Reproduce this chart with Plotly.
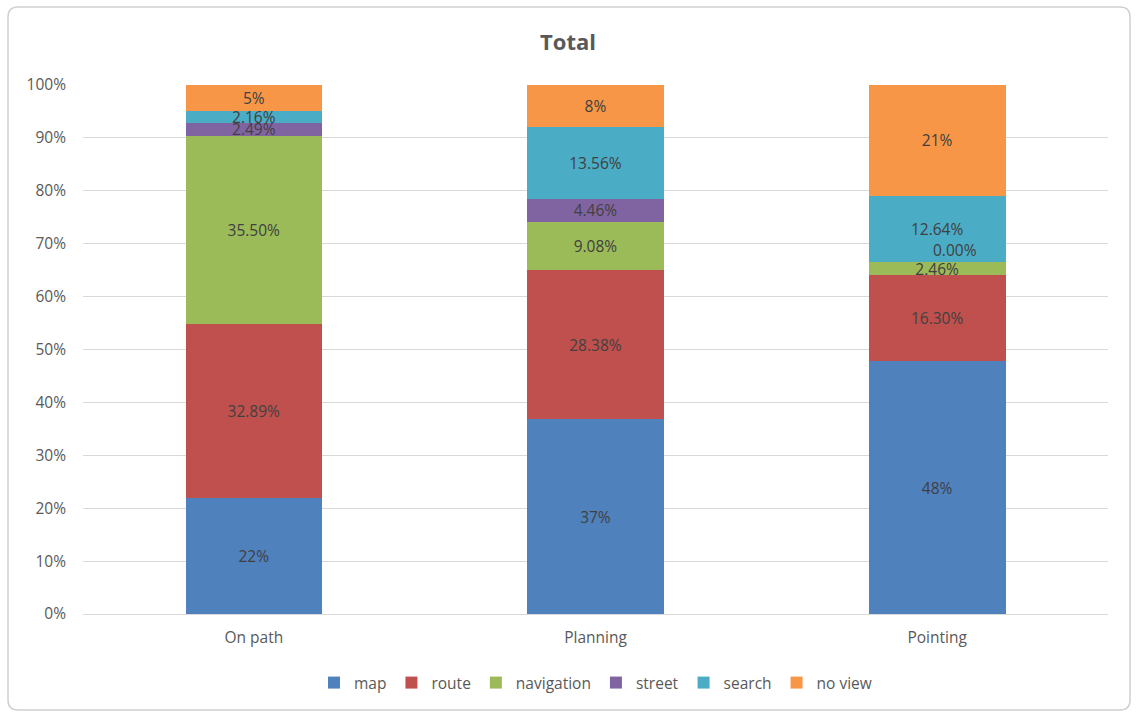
import plotly.graph_objects as go

categories = ["On path", "Planning", "Pointing"]
series_names = ["map", "route", "navigation", "street", "search", "no view"]
map_vals = [22, 37, 48]
route_vals = [32.89, 28.38, 16.30]
navigation_vals = [35.50, 9.08, 2.46]
street_vals = [2.49, 4.46, 0.00]
search_vals = [2.16, 13.56, 12.64]
noview_vals = [5, 8, 21]
map_labels = ["22%", "37%", "48%"]
route_labels = ["32.89%", "28.38%", "16.30%"]
navigation_labels = ["35.50%", "9.08%", "2.46%"]
street_labels = ["2.49%", "4.46%", "0.00%"]
search_labels = ["2.16%", "13.56%", "12.64%"]
noview_labels = ["5%", "8%", "21%"]
y_ticks = [0, 10, 20, 30, 40, 50, 60, 70, 80, 90, 100]

colors = ["#4F81BD", "#C0504D", "#9BBB59", "#8064A2", "#4BACC6", "#F79646"]
all_vals = [map_vals, route_vals, navigation_vals, street_vals, search_vals, noview_vals]
all_labels = [map_labels, route_labels, navigation_labels, street_labels, search_labels, noview_labels]

W, H = 1136, 713
ML, MR, MT, MB = 83, 28, 85, 99
FONT = "'Open Sans', sans-serif"
FS = 15.5

fig = go.Figure()
for name, vals, labs, col in zip(series_names, all_vals, all_labels, colors):
    fig.add_trace(go.Bar(
        name=name, x=categories, y=vals, marker=dict(color=col, line=dict(width=0)),
        text=labs, textposition="inside", insidetextanchor="middle", textangle=0,
        constraintext="none",
        textfont=dict(color="#404040", size=FS, family=FONT),
        hoverinfo="x+y+name",
    ))

# the zero-height segment label (Pointing / street): place at its stack boundary
totals = [sum(v[i] for v in all_vals) for i in range(len(categories))]
for i, v in enumerate(street_vals):
    if v == 0:
        base = map_vals[i] + route_vals[i] + navigation_vals[i]
        fig.add_annotation(x=categories[i], y=base / totals[i] * 100, xref="x", yref="y",
                           text=street_labels[i], showarrow=False, xshift=18, yshift=12,
                           font=dict(color="#404040", size=FS, family=FONT))

# rounded outer border
pw, ph = W - ML - MR, H - MT - MB
def px(x): return (x - ML) / pw
def py(y): return (H - MB - y) / ph
x0, y0, x1, y1, r = 8, 7, 1130, 710, 10
path = (f"M {px(x0+r)},{py(y0)} L {px(x1-r)},{py(y0)} Q {px(x1)},{py(y0)} {px(x1)},{py(y0+r)} "
        f"L {px(x1)},{py(y1-r)} Q {px(x1)},{py(y1)} {px(x1-r)},{py(y1)} "
        f"L {px(x0+r)},{py(y1)} Q {px(x0)},{py(y1)} {px(x0)},{py(y1-r)} "
        f"L {px(x0)},{py(y0+r)} Q {px(x0)},{py(y0)} {px(x0+r)},{py(y0)} Z")
fig.add_shape(type="path", path=path, xref="paper", yref="paper",
              line=dict(color="#D0D0D0", width=1.5), layer="below")

fig.update_layout(
    width=W, height=H,
    margin=dict(l=ML, r=MR, t=MT, b=MB),
    barmode="stack", barnorm="percent", bargap=0.6,
    paper_bgcolor="white", plot_bgcolor="white",
    font=dict(family=FONT, color="#595959", size=FS),
    title=dict(text="<b>Total</b>", x=0.5, xanchor="center", y=1 - 42 / H, yanchor="middle",
               font=dict(size=22, color="#595959", family=FONT)),
    xaxis=dict(showgrid=False, showline=False, ticks="", ticklabelstandoff=12,
               tickfont=dict(size=FS, color="#595959")),
    yaxis=dict(range=[0, 100], tickvals=y_ticks, ticktext=[f"{t}%" for t in y_ticks],
               showgrid=True, gridcolor="#D9D9D9", gridwidth=1, zeroline=True,
               zerolinecolor="#D9D9D9", zerolinewidth=1, showline=False,
               ticklabelstandoff=16, tickfont=dict(size=FS, color="#595959")),
    legend=dict(orientation="h", x=0.5, xanchor="center", y=-69 / ph, yanchor="middle",
                font=dict(size=FS, color="#595959"), traceorder="normal",
                itemwidth=30, bgcolor="rgba(0,0,0,0)"),
    uniformtext=dict(minsize=FS, mode="show"),
    showlegend=True,
)

fig.write_html("out.html")
